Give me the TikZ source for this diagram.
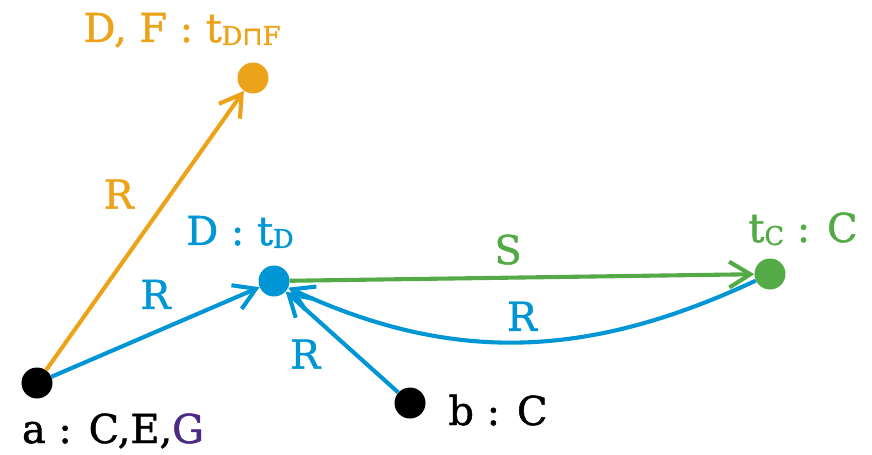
\documentclass[tikz,border=0pt]{standalone}
\usepackage{fontspec}
\setmainfont{DejaVu Serif}[FakeBold=1.2]
\newfontfamily\opfont{DejaVu Sans}[FakeBold=1.2]
\usetikzlibrary{arrows.meta}
\definecolor{ocol}{RGB}{236,163,26}
\definecolor{bcol}{RGB}{0,150,214}
\definecolor{gcol}{RGB}{84,170,70}
\definecolor{pcol}{RGB}{75,42,133}
\newcommand\sub[1]{\raisebox{-2.5pt}{\fontsize{22}{24}\selectfont #1}}

\begin{document}
\begin{tikzpicture}[x=0.03cm,y=0.03cm,
  >={Straight Barb[length=18pt,width=22pt]},
  dot/.style={circle,fill=#1,inner sep=0pt,minimum size=0.93cm},
  rel/.style={draw=#1,line width=3.5pt,->},
  lbl/.style={font=\fontsize{34}{36}\selectfont,text=#1,inner sep=0pt}]
\useasboundingbox (0,0) rectangle (872,-455);
\node[dot=ocol] (tdf) at (253,-78) {};
\node[dot=bcol] (td) at (274,-281) {};
\node[dot=gcol] (tc) at (770,-274) {};
\node[dot=black] (a) at (37,-383) {};
\node[dot=black] (b) at (410,-403) {};
\node[lbl=ocol,anchor=base] (tdflbl) at (182,-42) {D, F : t\sub{D{\opfont ⊓}F}};
\node[lbl=bcol,anchor=base] (tdlbl) at (240,-245) {D : t\sub{D}};
\node[lbl=gcol,anchor=base] (tclbl) at (803,-242) {t\sub{C} : C};
\node[lbl=black,anchor=base] (albl) at (113,-443) {a : C,E,\textcolor{pcol}{G}};
\node[lbl=black,anchor=base] (blbl) at (498,-425) {b : C};
\draw[rel=ocol] (a) -- node[lbl=ocol,pos=.63,left=1.05cm] {R} (tdf);
\draw[rel=bcol] (a) -- node[lbl=bcol,pos=.5,above=.63cm] {R} (td);
\draw[rel=gcol] (td) -- node[lbl=gcol,pos=.47,above=.33cm] {S} (tc);
\draw[rel=bcol] (tc) to[out=205,in=-25] node[lbl=bcol,pos=.5,above=.28cm] {R} (td);
\draw[rel=bcol] (b) -- node[lbl=bcol,pos=.38,left=1cm] {R} (td);
\end{tikzpicture}
\end{document}
